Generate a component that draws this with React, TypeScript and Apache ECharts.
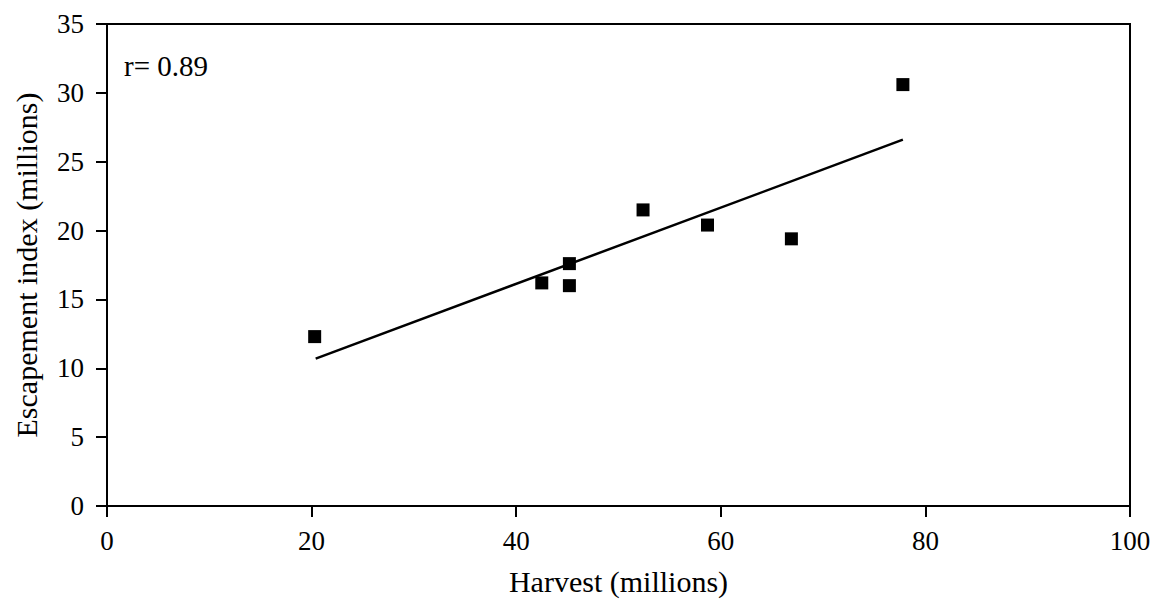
import React, { useEffect, useRef } from "react";
import * as echarts from "echarts";

const harvest = [20.3, 42.5, 45.2, 45.2, 52.4, 58.7, 66.9, 77.8];
const escapement = [12.3, 16.2, 17.6, 16.0, 21.5, 20.4, 19.4, 30.6];
const trendX = [20.4, 77.8];
const trendY = [10.7, 26.6];
const xTicks = [0, 20, 40, 60, 80, 100];
const yTicks = [0, 5, 10, 15, 20, 25, 30, 35];
const rLabel = "r= 0.89";
const xTitle = "Harvest (millions)";
const yTitle = "Escapement index (millions)";

export default function App() {
  const ref = useRef<HTMLDivElement>(null);
  useEffect(() => {
    if (!ref.current) return;
    const chart = echarts.init(ref.current, null, { renderer: "svg" });
    const font = "'Liberation Serif', 'Times New Roman', serif";
    chart.setOption({
      animation: false,
      textStyle: { fontFamily: font },
      grid: {
        left: 107,
        right: 30,
        top: 24,
        bottom: 98,
        show: true,
        borderColor: "#000",
        borderWidth: 2,
      },
      xAxis: {
        type: "value",
        min: xTicks[0],
        max: xTicks[xTicks.length - 1],
        interval: 20,
        name: xTitle,
        nameLocation: "middle",
        nameGap: 60,
        nameTextStyle: { fontFamily: font, fontSize: 30, color: "#000" },
        axisLine: { show: true, lineStyle: { color: "#000", width: 2 } },
        axisTick: { show: true, inside: false, length: 11, lineStyle: { color: "#000", width: 2 } },
        axisLabel: { fontFamily: font, fontSize: 27, color: "#000", margin: 21 },
        splitLine: { show: false },
      },
      yAxis: {
        type: "value",
        min: yTicks[0],
        max: yTicks[yTicks.length - 1],
        interval: 5,
        name: yTitle,
        nameLocation: "middle",
        nameGap: 66,
        nameRotate: 90,
        nameTextStyle: { fontFamily: font, fontSize: 30, color: "#000" },
        axisLine: { show: true, lineStyle: { color: "#000", width: 2 } },
        axisTick: { show: true, inside: false, length: 11, lineStyle: { color: "#000", width: 2 } },
        axisLabel: { fontFamily: font, fontSize: 27, color: "#000", margin: 23 },
        splitLine: { show: false },
      },
      graphic: [
        {
          type: "text",
          left: 124,
          top: 51,
          style: { text: rLabel, fontFamily: font, fontSize: 29, fill: "#000" },
        },
      ],
      series: [
        {
          type: "line",
          data: trendX.map((x, i) => [x, trendY[i]]),
          showSymbol: false,
          symbol: "none",
          lineStyle: { color: "#000", width: 2.5 },
          z: 2,
        },
        {
          type: "scatter",
          data: harvest.map((x, i) => [x, escapement[i]]),
          symbol: "rect",
          symbolSize: 13,
          itemStyle: { color: "#000", opacity: 1 },
          z: 3,
        },
      ],
    });
    return () => chart.dispose();
  }, []);
  return (
    <div
      ref={ref}
      style={{ position: "fixed", left: 0, top: 0, width: 1160, height: 604, background: "#fff" }}
    />
  );
}
